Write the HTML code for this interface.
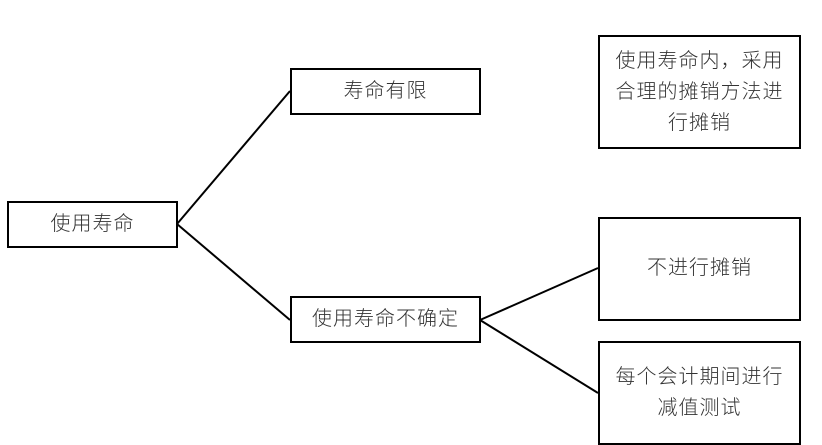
<!DOCTYPE html>
<html><head><meta charset="utf-8"><style>
body{margin:0;width:822px;height:445px;background:#fff;position:relative;overflow:hidden;font-family:"Liberation Sans","Noto Sans CJK SC",sans-serif;color:#333}
.b{position:absolute;border:2px solid #000;box-sizing:border-box;display:flex;align-items:center;justify-content:center;text-align:center;font-size:20px;line-height:31px;white-space:nowrap;font-weight:300;letter-spacing:1px}
svg{position:absolute;left:0;top:0}
</style></head><body>
<svg width="822" height="445"><g stroke="#000" stroke-width="2" fill="none">
<line x1="177" y1="224" x2="290" y2="91"/>
<line x1="177" y1="224" x2="290" y2="320"/>
<line x1="480" y1="320" x2="598" y2="268"/>
<line x1="480" y1="320" x2="598" y2="393"/>
</g></svg>
<div class="b" style="left:7px;top:201px;width:171px;height:47px">使用寿命</div>
<div class="b" style="left:290px;top:68px;width:191px;height:47px">寿命有限</div>
<div class="b" style="left:290px;top:296px;width:191px;height:47px">使用寿命不确定</div>
<div class="b" style="left:598px;top:35px;width:203px;height:114px">使用寿命内，采用<br>合理的摊销方法进<br>行摊销</div>
<div class="b" style="left:598px;top:217px;width:203px;height:104px;padding-bottom:2px">不进行摊销</div>
<div class="b" style="left:598px;top:341px;width:203px;height:104px">每个会计期间进行<br>减值测试</div>
</body></html>
